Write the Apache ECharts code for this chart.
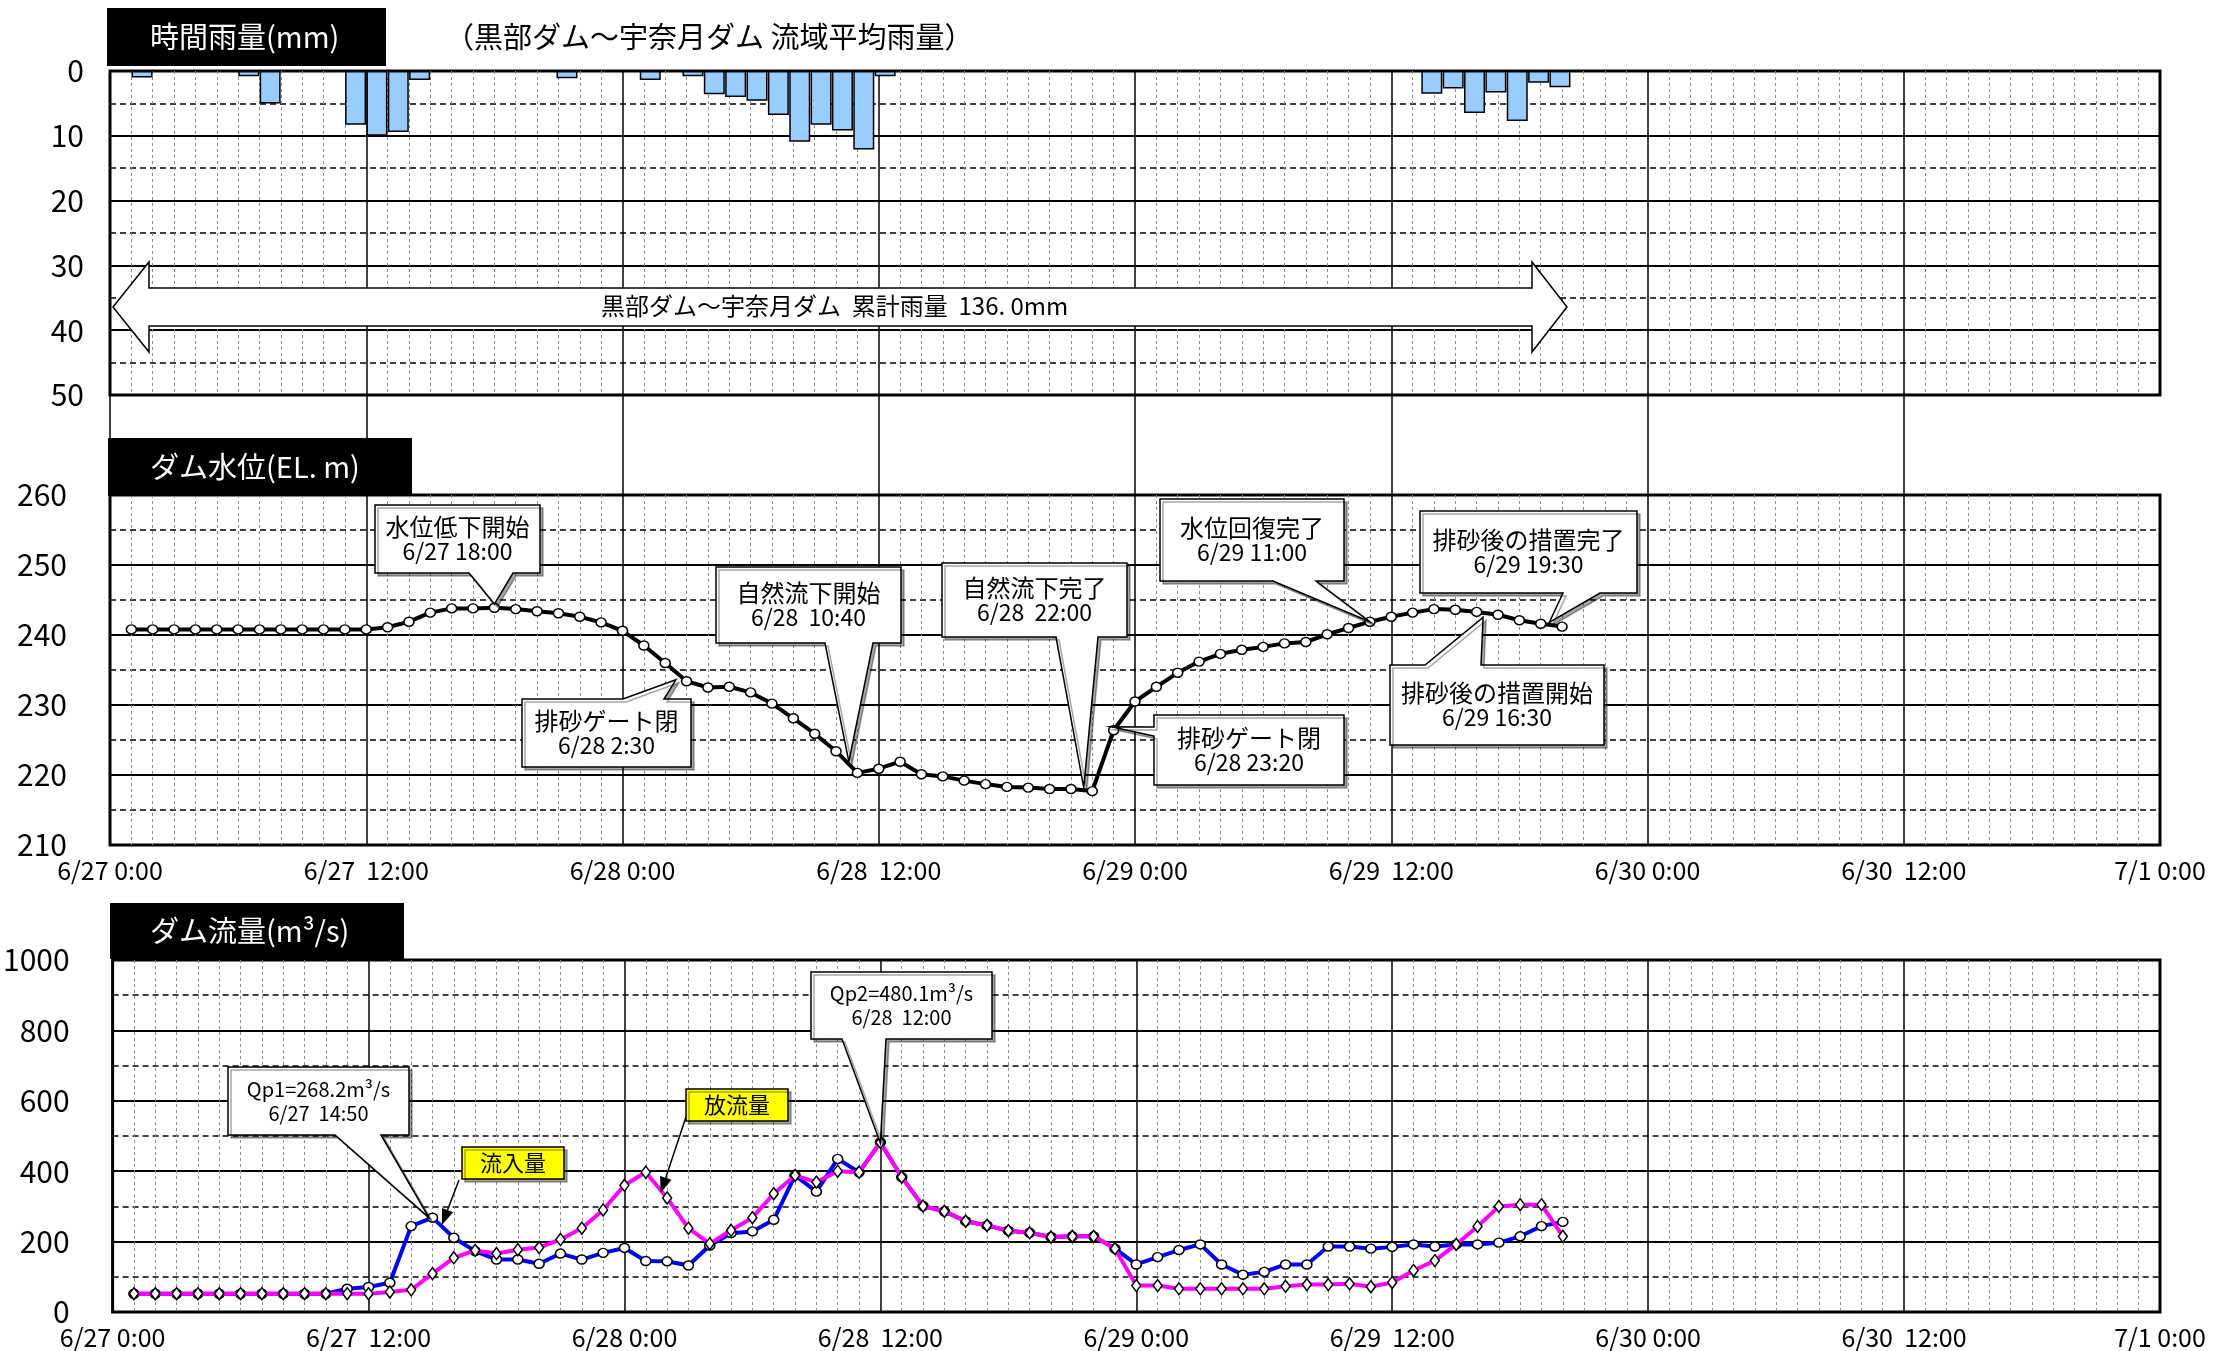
<!DOCTYPE html>
<html><head><meta charset="utf-8">
<script src="https://cdn.jsdelivr.net/npm/echarts@6/dist/echarts.min.js"></script>
<style>html,body{margin:0;padding:0;background:#fff}#c{width:2213px;height:1351px}</style>
</head><body><div id="c"></div><script>
const FONT = "'Noto Sans CJK JP', 'Noto Sans', sans-serif";

// x axis: hours from 6/27 0:00
const xTickLabels = ['6/27 0:00','6/27  12:00','6/28 0:00','6/28  12:00','6/29 0:00','6/29  12:00','6/30 0:00','6/30  12:00','7/1 0:00'];

// hourly rainfall (bar centre hour, mm)
const rainHours  = [1.5, 6.5, 7.5, 11.5, 12.5, 13.5, 14.5, 21.4, 25.3, 27.3, 28.3, 29.3, 30.3, 31.3, 32.3, 33.3, 34.3, 35.3, 36.3, 61.9, 62.9, 63.9, 64.9, 65.9, 66.9, 67.9];
const rainValues = [1.0, 0.8, 5.0, 8.3, 10.0, 9.4, 1.4, 1.1, 1.4, 0.8, 3.6, 4.0, 4.6, 6.8, 10.9, 8.3, 9.2, 12.1, 0.8, 3.5, 2.7, 6.5, 3.3, 7.7, 1.8, 2.5];

// observation hours (shared by level and flow)
const obsHours = [1,2,3,4,5,6,7,8,9,10,11,12,13,14,15,16,17,18,19,20,21,22,23,24,25,26,27,28,29,30,31,32,33,34,35,36,37,38,39,40,41,42,43,44,45,46,47,48,49,50,51,52,53,54,55,56,57,58,59,60,61,62,63,64,65,66,67,68];

// dam water level (EL.m)
const levelValues = [240.8,240.8,240.8,240.8,240.8,240.8,240.8,240.8,240.8,240.8,240.8,240.8,
  241.1,241.9,243.2,243.8,243.8,243.9,243.7,243.4,243.1,242.6,241.8,240.6,
  238.5,236.0,233.4,232.5,232.6,231.8,230.2,228.1,225.9,223.4,220.3,220.9,
  221.9,220.1,219.8,219.2,218.7,218.3,218.2,218.0,218.0,217.7,226.4,230.5,
  232.6,234.6,236.2,237.3,237.9,238.3,238.8,239.0,240.1,241.0,241.9,242.6,
  243.2,243.7,243.6,243.3,242.9,242.1,241.6,241.2];

// inflow (m3/s)
const inflowValues = [52,52,52,52,52,52,52,52,52,52,66,71,
  83,244,268,211,173,149,149,137,166,149,168,182,
  145,144,132,189,224,229,262,388,342,435,397,482,
  383,301,286,258,246,231,225,213,215,215,180,135,
  156,176,192,135,106,114,135,135,186,186,180,185,
  192,186,192,192,197,215,244,256];

// outflow (m3/s)
const outflowValues = [52,52,52,52,52,52,52,52,52,52,52,52,
  57,63,109,154,175,166,177,183,206,238,290,360,
  397,324,238,194,232,268,336,388,369,400,397,482,
  383,301,286,258,246,231,225,213,215,215,180,75,
  75,66,66,66,66,66,73,78,78,80,72,84,
  118,146,192,243,300,305,305,215];

const pairs = (xs, ys) => xs.map((x, i) => [x, ys[i]]);

const chart = echarts.init(document.getElementById('c'), null, {renderer: 'canvas'});

function xAx(gi, showLabels, gap, margin) {
  return {
    type: 'value', gridIndex: gi, min: 0, max: 96, interval: 12,
    axisLine: {show: false}, axisTick: {show: false},
    axisLabel: {show: showLabels, formatter: v => xTickLabels[Math.round(v / 12)], fontSize: 25, color: '#000', fontFamily: FONT, margin: margin || 14, hideOverlap: false, showMinLabel: true, showMaxLabel: true},
    splitLine: {show: true, showMaxLine: !gap, lineStyle: {color: '#000', width: 1.5}},
    minorTick: {show: false, splitNumber: 12},
    minorSplitLine: {show: !gap, lineStyle: {color: '#8a8a8a', width: 1, type: [3, 3]}}
  };
}
function yAx(gi, min, max, interval, margin, inverse) {
  return {
    type: 'value', gridIndex: gi, min: min, max: max, interval: interval, inverse: !!inverse,
    axisLine: {show: false}, axisTick: {show: false},
    axisLabel: {fontSize: 30, color: '#000', fontFamily: FONT, margin: margin, formatter: v => String(v)},
    splitLine: {show: true, lineStyle: {color: '#000', width: 2}},
    minorTick: {show: false, splitNumber: 2},
    minorSplitLine: {show: true, lineStyle: {color: '#000', width: 1.5, type: [6, 4]}}
  };
}

const option = {
  animation: false,
  backgroundColor: '#fff',
  textStyle: {fontFamily: FONT},
  grid: [
    {left: 110, top: 71, width: 2050, height: 324, show: true, borderColor: '#000', borderWidth: 3},
    {left: 110, top: 395, width: 2050, height: 100, show: false},
    {left: 110, top: 495, width: 2050, height: 350, show: true, borderColor: '#000', borderWidth: 3},
    {left: 110, top: 960, width: 2050, height: 352, show: true, borderColor: '#000', borderWidth: 3}
  ],
  xAxis: [xAx(0, false, false), xAx(1, false, true), xAx(2, true, false, 13), xAx(3, true, false, 13)],
  yAxis: [
    yAx(0, 0, 50, 10, 26, true),
    {type: 'value', gridIndex: 1, min: 0, max: 1, show: false},
    yAx(2, 210, 260, 10, 43, false),
    yAx(3, 0, 1000, 200, 43, false)
  ],
  series: [
    {type: 'bar', name: '時間雨量', xAxisIndex: 0, yAxisIndex: 0, data: pairs(rainHours, rainValues), barWidth: 21,
      itemStyle: {color: '#99CCFF', borderColor: '#000', borderWidth: 1.5}},
    {type: 'line', xAxisIndex: 1, yAxisIndex: 1, data: [], silent: true},
    {type: 'line', name: 'ダム水位', xAxisIndex: 2, yAxisIndex: 2, data: pairs(obsHours, levelValues),
      lineStyle: {color: '#000', width: 4}, symbol: 'circle', symbolSize: [10, 9], showAllSymbol: true,
      itemStyle: {color: '#fff', borderColor: '#000', borderWidth: 1.5}, z: 3},
    {type: 'line', name: '流入量', xAxisIndex: 3, yAxisIndex: 3, data: pairs(obsHours, inflowValues),
      lineStyle: {color: '#0000FF', width: 4}, symbol: 'circle', symbolSize: [10, 9], showAllSymbol: true,
      itemStyle: {color: '#fff', borderColor: '#000', borderWidth: 1.5}, z: 3},
    {type: 'line', name: '放流量', xAxisIndex: 3, yAxisIndex: 3, data: pairs(obsHours, outflowValues),
      lineStyle: {color: '#FF00FF', width: 4}, symbol: 'diamond', symbolSize: [9, 12], showAllSymbol: true,
      itemStyle: {color: '#fff', borderColor: '#000', borderWidth: 1.5}, z: 4}
  ]
};
chart.setOption(option);

// ---------- annotations ----------
const Z = 100;
const shadow = {shadowColor: 'rgba(0,0,0,0.35)', shadowOffsetX: 3, shadowOffsetY: 3, shadowBlur: 0};
function txt(text, x, y, size, color, align) {
  return {type: 'text', z: Z + 2, style: {text: text, x: x, y: y, fill: color || '#000', fontSize: size, fontFamily: FONT,
    textAlign: align || 'center', textVerticalAlign: 'middle', align: align || 'center', verticalAlign: 'middle'}};
}
const els = [];
// title boxes
els.push({type: 'rect', z: Z, shape: {x: 107, y: 8, width: 279, height: 58}, style: {fill: '#000'}});
els.push(txt('時間雨量(mm)', 150, 37, 29, '#fff', 'left'));
els.push(txt('（黒部ダム～宇奈月ダム 流域平均雨量）', 445, 37, 29, '#000', 'left'));
els.push({type: 'rect', z: Z, shape: {x: 108, y: 438, width: 304, height: 58}, style: {fill: '#000'}});
els.push(txt('ダム水位(EL. m)', 150, 467, 29, '#fff', 'left'));
els.push({type: 'rect', z: Z, shape: {x: 110, y: 903, width: 294, height: 56}, style: {fill: '#000'}});
els.push(txt('ダム流量(m³/s)', 150, 931, 29, '#fff', 'left'));

// cumulative rain arrow
els.push({type: 'polygon', z: Z, shape: {points: [
  [113, 307], [149, 262], [149, 288], [1532, 288], [1532, 262], [1567, 307],
  [1532, 352], [1532, 326], [149, 326], [149, 352]]},
  style: {fill: '#fff', stroke: '#000', lineWidth: 1.5}});
els.push(txt('黒部ダム～宇奈月ダム  累計雨量  136. 0mm', 601, 306, 24, '#000', 'left'));

const levelNotes = [
  {lines: ['水位低下開始', '6/27 18:00'], box: [375, 505, 540, 573], side: 'bottom', base: [469, 513], tip: [18, 244.4]},
  {lines: ['排砂ゲート閉', '6/28 2:30'], box: [522, 699, 691, 767], side: 'top', base: [623, 664], tip: [26.5, 233.6]},
  {lines: ['自然流下開始', '6/28  10:40'], box: [716, 567, 901, 643], side: 'bottom', base: [825, 873], tip: [34.6, 221.9]},
  {lines: ['自然流下完了', '6/28  22:00'], box: [942, 563, 1127, 637], side: 'bottom', base: [1056, 1098], tip: [45.6, 218.2]},
  {lines: ['排砂ゲート閉', '6/28 23:20'], box: [1154, 715, 1344, 785], side: 'left', base: [727, 736], tip: [46.9, 226.9]},
  {lines: ['水位回復完了', '6/29 11:00'], box: [1160, 499, 1344, 581], side: 'bottom', base: [1273, 1316], tip: [59, 241.9]},
  {lines: ['排砂後の措置完了', '6/29 19:30'], box: [1420, 511, 1637, 593], side: 'bottom', base: [1563, 1600], tip: [67.4, 241.8]},
  {lines: ['排砂後の措置開始', '6/29 16:30'], box: [1390, 665, 1604, 745], side: 'top', base: [1425, 1481], tip: [64.3, 242.5]}
];
const flowNotes = [
  {lines: ['Qp1=268.2m³/s', '6/27  14:50'], box: [228, 1067, 409, 1135], side: 'bottom', base: [335, 381], tip: [14.83, 268.2]},
  {lines: ['Qp2=480.1m³/s', '6/28  12:00'], box: [811, 972, 992, 1039], side: 'bottom', base: [842, 886], tip: [36, 480.1]}
];
const flowLabels = [
  {text: '流入量', box: [462, 1147, 564, 1179], from: [459, 1180], tip: [15.44, 247]},
  {text: '放流量', box: [686, 1089, 788, 1121], from: [686, 1117], tip: [25.7, 338]}
];

function callout(n, gridIndex, size1, size2) {
  const t = chart.convertToPixel({gridIndex: gridIndex}, n.tip);
  const [x0, y0, x1, y1] = n.box;
  const [b1, b2] = n.base;
  let pts;
  if (n.side === 'bottom') pts = [[x0, y0], [x1, y0], [x1, y1], [b2, y1], t, [b1, y1], [x0, y1]];
  else if (n.side === 'top') pts = [[x0, y0], [b1, y0], t, [b2, y0], [x1, y0], [x1, y1], [x0, y1]];
  else pts = [[x0, y0], [x1, y0], [x1, y1], [x0, y1], [x0, b2], t, [x0, b1]];
  els.push({type: 'polygon', z: Z, shape: {points: pts}, style: Object.assign({fill: '#fff', stroke: '#000', lineWidth: 1.5}, shadow)});
  const cx = (x0 + x1) / 2, cy = (y0 + y1) / 2;
  els.push(txt(n.lines[0], cx, cy - 12, size1));
  els.push(txt(n.lines[1], cx, cy + 12, size2));
}
levelNotes.forEach(n => callout(n, 2, 24, 23));
flowNotes.forEach(n => callout(n, 3, 20, 20));

flowLabels.forEach(n => {
  const t = chart.convertToPixel({gridIndex: 3}, n.tip);
  const [x0, y0, x1, y1] = n.box;
  const f = n.from;
  const dx = t[0] - f[0], dy = t[1] - f[1];
  const len = Math.sqrt(dx * dx + dy * dy);
  const ux = dx / len, uy = dy / len;
  const hl = 16, hw = 6;
  const bx = t[0] - ux * hl, by = t[1] - uy * hl;
  els.push({type: 'line', z: Z, shape: {x1: f[0], y1: f[1], x2: bx, y2: by}, style: {stroke: '#000', lineWidth: 1.5}});
  els.push({type: 'polygon', z: Z, shape: {points: [t, [bx - uy * hw, by + ux * hw], [bx + uy * hw, by - ux * hw]]}, style: {fill: '#000'}});
  els.push({type: 'rect', z: Z, shape: {x: x0, y: y0, width: x1 - x0, height: y1 - y0}, style: Object.assign({fill: '#FFFF00', stroke: '#000', lineWidth: 1.5}, shadow)});
  els.push(txt(n.text, (x0 + x1) / 2, (y0 + y1) / 2, 22));
});

chart.setOption({graphic: {elements: els}});
</script></body></html>
